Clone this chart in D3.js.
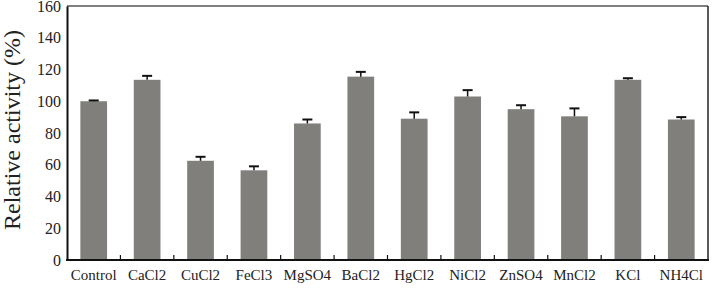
<!DOCTYPE html>
<html>
<head>
<meta charset="utf-8">
<script src="https://cdn.jsdelivr.net/npm/d3@7"></script>
<style>
  body { margin: 0; background: #fff; }
  svg text { font-family: 'Liberation Serif', 'Times New Roman', serif; }
</style>
</head>
<body>
<svg width="721" height="288"></svg>
<script>
const categories = ['Control', 'CaCl2', 'CuCl2', 'FeCl3', 'MgSO4', 'BaCl2', 'HgCl2', 'NiCl2', 'ZnSO4', 'MnCl2', 'KCl', 'NH4Cl']
const activity = [100, 113.5, 62.5, 56.5, 86, 115.5, 89, 103, 95, 90.5, 113.5, 88.5]
const errors = [0.5, 2.5, 2.5, 2.5, 2.5, 3, 4, 4, 2.5, 5, 1, 1.5]
const yTicks = [0, 20, 40, 60, 80, 100, 120, 140, 160]

const plotLeft = 67
const plotRight = 708
const plotTop = 6
const plotBottom = 260

const svg = d3.select('svg')

const x = d3.scaleBand().domain(categories).range([plotLeft, plotRight]).paddingInner(0.5).paddingOuter(0.25)
const y = d3.scaleLinear().domain([0, 160]).range([plotBottom, plotTop])

// bars
svg.selectAll('.bar')
  .data(categories)
  .enter()
  .append('rect')
  .attr('class', 'bar')
  .attr('x', (d) => x(d))
  .attr('width', x.bandwidth())
  .attr('y', (d, i) => y(activity[i]))
  .attr('height', (d, i) => plotBottom - y(activity[i]))
  .attr('fill', '#817f7b')

// error bars (upper only)
const err = svg.append('g').attr('stroke', '#111').attr('stroke-width', 1.5)
categories.forEach((c, i) => {
  const cx = x(c) + x.bandwidth() / 2
  err.append('line')
    .attr('x1', cx).attr('x2', cx)
    .attr('y1', y(activity[i])).attr('y2', y(activity[i] + errors[i]))
  err.append('line')
    .attr('x1', cx - 5).attr('x2', cx + 5)
    .attr('y1', y(activity[i] + errors[i])).attr('y2', y(activity[i] + errors[i]))
    .attr('stroke-width', 2)
})

// frame
svg.append('line').attr('x1', plotLeft).attr('x2', plotRight).attr('y1', plotTop).attr('y2', plotTop)
  .attr('stroke', '#555').attr('stroke-width', 1.5)
svg.append('line').attr('x1', plotRight).attr('x2', plotRight).attr('y1', plotTop).attr('y2', plotBottom)
  .attr('stroke', '#222').attr('stroke-width', 1.5)

// y axis
const yAxis = d3.axisLeft(y).tickValues(yTicks).tickSize(0).tickPadding(6)
const gy = svg.append('g').attr('transform', `translate(${plotLeft}, 0)`).call(yAxis)
gy.attr('font-family', null).attr('font-size', null)
gy.select('.domain').attr('stroke', '#111').attr('stroke-width', 2)
gy.selectAll('text').style('font-size', '16px').attr('fill', '#222')

// x axis with ticks between categories
const gx = svg.append('g').attr('transform', `translate(0, ${plotBottom})`)
gx.append('line').attr('x1', plotLeft - 1).attr('x2', plotRight + 1)
  .attr('stroke', '#111').attr('stroke-width', 2)
const gap = (x.step() - x.bandwidth()) / 2
gx.selectAll('.sep')
  .data(categories.slice(1))
  .enter()
  .append('line')
  .attr('x1', (d) => x(d) - gap)
  .attr('x2', (d) => x(d) - gap)
  .attr('y1', 0).attr('y2', -5)
  .attr('stroke', '#111').attr('stroke-width', 1.2)
gx.selectAll('.lbl')
  .data(categories)
  .enter()
  .append('text')
  .attr('x', (d) => x(d) + x.bandwidth() / 2)
  .attr('y', 20)
  .attr('text-anchor', 'middle')
  .style('font-size', '15px')
  .attr('fill', '#222')
  .text((d) => d)

// y title
svg.append('text')
  .attr('transform', `translate(20, ${(plotTop + plotBottom) / 2 - 3}) rotate(-90)`)
  .attr('text-anchor', 'middle')
  .style('font-size', '24px')
  .attr('fill', '#222')
  .text('Relative activity (%)')
</script>
</body>
</html>
